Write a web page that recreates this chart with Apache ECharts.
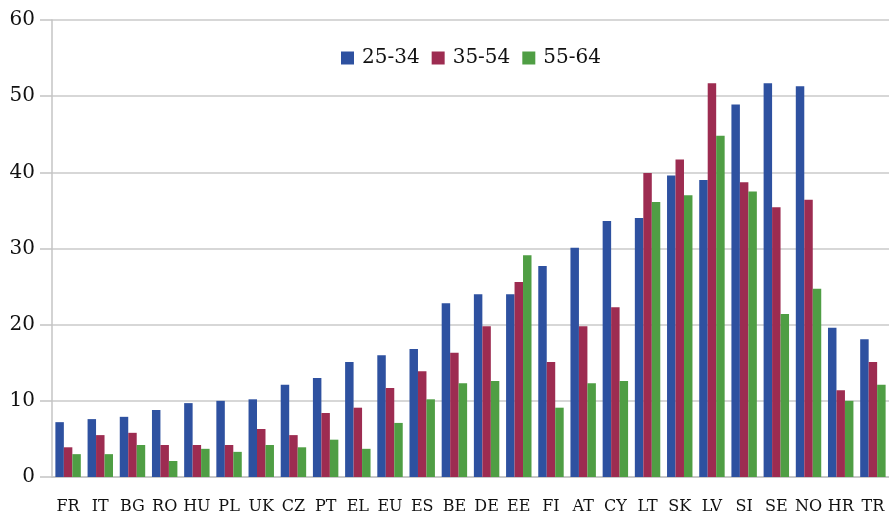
<!DOCTYPE html>
<html>
<head>
<meta charset="utf-8">
<script src="https://cdn.jsdelivr.net/npm/echarts@6/dist/echarts.min.js"></script>
<style>
  html, body { margin: 0; padding: 0; background: #fff; }
  #chart { width: 889px; height: 519px; }
</style>
</head>
<body>
<div id="chart"></div>
<script>
const countries = ['FR', 'IT', 'BG', 'RO', 'HU', 'PL', 'UK', 'CZ', 'PT', 'EL', 'EU', 'ES', 'BE',
  'DE', 'EE', 'FI', 'AT', 'CY', 'LT', 'SK', 'LV', 'SI', 'SE', 'NO', 'HR', 'TR']
const age25to34 = [7.2, 7.6, 7.9, 8.8, 9.7, 10.0, 10.2, 12.1, 13.0, 15.1, 16.0, 16.8, 22.8,
  24.0, 24.0, 27.7, 30.1, 33.6, 34.0, 39.6, 39.0, 48.9, 51.7, 51.3, 19.6, 18.1]
const age35to54 = [3.9, 5.5, 5.8, 4.2, 4.2, 4.2, 6.3, 5.5, 8.4, 9.1, 11.7, 13.9, 16.3,
  19.8, 25.6, 15.1, 19.8, 22.3, 39.9, 41.7, 51.7, 38.7, 35.4, 36.4, 11.4, 15.1]
const age55to64 = [3.0, 3.0, 4.2, 2.1, 3.7, 3.3, 4.2, 3.9, 4.9, 3.7, 7.1, 10.2, 12.3,
  12.6, 29.1, 9.1, 12.3, 12.6, 36.1, 37.0, 44.8, 37.5, 21.4, 24.7, 10.0, 12.1]
const seriesNames = ['25-34', '35-54', '55-64']

const font = 'DejaVu Serif'
const chart = echarts.init(document.getElementById('chart'))

chart.setOption({
  animation: false,
  color: ['#2e51a0', '#9d2c51', '#4f9e44'],
  grid: { left: 52, right: 0, top: 20, bottom: 42 },
  legend: {
    data: seriesNames,
    left: 336,
    top: 43,
    itemWidth: 13,
    itemHeight: 13,
    itemGap: 12,
    icon: 'rect',
    textStyle: { fontFamily: font, fontSize: 20, color: '#111', padding: [0, 0, 0, 3] }
  },
  xAxis: {
    type: 'category',
    data: countries,
    axisLine: { lineStyle: { color: '#c4c4c4', width: 1.5 } },
    axisTick: { length: 12, lineStyle: { color: '#c4c4c4', width: 1.5 } },
    axisLabel: { fontFamily: font, fontSize: 16, color: '#111', margin: 22, interval: 0 }
  },
  yAxis: {
    type: 'value',
    min: 0,
    max: 60,
    interval: 10,
    axisLine: { show: true, lineStyle: { color: '#c4c4c4', width: 1.5 } },
    axisTick: { show: true, length: 12, lineStyle: { color: '#c4c4c4', width: 1.5 } },
    splitLine: { lineStyle: { color: '#cacaca', width: 1.5 } },
    axisLabel: { fontFamily: font, fontSize: 20, color: '#111', margin: 17 }
  },
  series: [
    { name: seriesNames[0], type: 'bar', data: age25to34, barGap: '0%', barCategoryGap: '21%' },
    { name: seriesNames[1], type: 'bar', data: age35to54, barGap: '0%', barCategoryGap: '21%' },
    { name: seriesNames[2], type: 'bar', data: age55to64, barGap: '0%', barCategoryGap: '21%' }
  ]
})
</script>
</body>
</html>
